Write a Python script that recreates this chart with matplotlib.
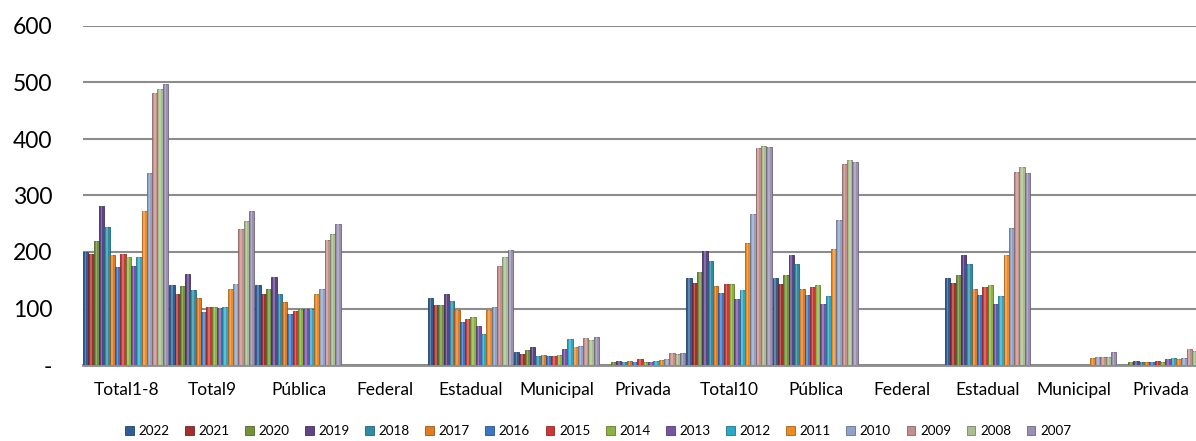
import numpy as np
import matplotlib
matplotlib.use("Agg")
import matplotlib.pyplot as plt
from matplotlib.colors import to_rgb
from matplotlib.patches import Patch

plt.rcParams['font.family'] = ['Lato', 'DejaVu Sans']

nan = np.nan

categories = ['Total1-8', 'Total9', 'Pública', 'Federal', 'Estadual', 'Municipal', 'Privada',
              'Total10', 'Pública', 'Federal', 'Estadual', 'Municipal', 'Privada']
years = ['2022', '2021', '2020', '2019', '2018', '2017', '2016', '2015',
         '2014', '2013', '2012', '2011', '2010', '2009', '2008', '2007']

# one list per category, values in year order 2022 -> 2007
total1_8 = [200, 197, 219, 281, 244, 194, 173, 196, 191, 175, 191, 272, 339, 482, 489, 498]
total9 = [141, 125, 139, 161, 132, 118, 94, 102, 102, 101, 102, 134, 143, 240, 254, 272]
publica_9 = [141, 125, 134, 155, 126, 112, 91, 95, 99, 99, 99, 125, 135, 221, 232, 250]
federal_9 = [nan] * 16
estadual_9 = [118, 107, 107, 125, 113, 97, 76, 81, 85, 69, 55, 97, 102, 176, 191, 203]
municipal_9 = [23, 19, 26, 32, 16, 18, 16, 16, 18, 28, 46, 32, 34, 48, 45, 49]
privada_9 = [nan, nan, 5, 7, 5, 7, 5, 11, 5, 6, 7, 9, 11, 21, 19, 21]
total10 = [154, 145, 165, 202, 184, 140, 127, 143, 143, 116, 133, 216, 268, 384, 388, 385]
publica_10 = [154, 144, 159, 194, 178, 134, 124, 138, 141, 108, 122, 205, 257, 355, 362, 359]
federal_10 = [nan] * 16
estadual_10 = [154, 145, 159, 194, 178, 134, 124, 138, 141, 108, 122, 194, 242, 341, 351, 339]
municipal_10 = [nan] * 11 + [12, 15, 15, 15, 23]
privada_10 = [nan, nan, 5, 7, 5, 5, 5, 7, 5, 11, 12, 11, 12, 28, 25, 26]

colors = ['#2f5e97', '#a2302d', '#72923a', '#5e4486', '#2f8ca7', '#e07b22',
          '#3a77c3', '#cd3834', '#8bb33f', '#7454a3', '#2ba7c7', '#ee8a22',
          '#8ea3c7', '#c58d8c', '#a9bd8e', '#9b90b1']

values = np.array([total1_8, total9, publica_9, federal_9, estadual_9, municipal_9, privada_9,
                   total10, publica_10, federal_10, estadual_10, municipal_10, privada_10])

W, H = 1196, 441
fig = plt.figure(figsize=(W / 100, H / 100), dpi=100)
ax_left, ax_bottom = 83 / W, (H - 365) / H
ax_w, ax_h = 13 * 86.2 / W, (365 - 26) / H
ax = fig.add_axes([ax_left, ax_bottom, ax_w, ax_h])

n_cat = len(categories)
bw = 1 / 16.2
x = np.arange(n_cat)
handles = []
for j, yr in enumerate(years):
    base = np.array(to_rgb(colors[j]))
    edge = base * 0.7
    ax.bar(x + j * bw, values[:, j], width=bw, align='edge', color=colors[j],
           edgecolor=edge, linewidth=0.6, zorder=3)
    # light centre streak for the bevelled look
    light = np.clip(base + (1 - base) * 0.25, 0, 1)
    ax.bar(x + j * bw + bw * 0.35, values[:, j], width=bw * 0.3, align='edge',
           color=light, linewidth=0, zorder=3.5)
    handles.append(Patch(facecolor=colors[j], edgecolor=edge, linewidth=0.6, label=yr))

ax.set_xlim(0, n_cat)
ax.set_ylim(0, 600)
ax.set_yticks(range(0, 601, 100))
ax.set_yticklabels(['-', '100', '200', '300', '400', '500', '600'], fontsize=16.5)
ax.set_xticks(x + 0.5)
ax.set_xticklabels(categories, fontsize=12.5)
ax.tick_params(axis='y', length=0, pad=22)
ax.tick_params(axis='x', length=0, pad=12)
for s in ['top', 'right', 'left']:
    ax.spines[s].set_visible(False)
ax.spines['bottom'].set_color('#8c8c8c')
ax.spines['bottom'].set_linewidth(2)
ax.yaxis.grid(True, color='#8c8c8c', linewidth=1.5, zorder=0)
ax.set_axisbelow(True)

fig.legend(handles=handles, loc='center', bbox_to_anchor=(0.5, 0.023), ncol=16, frameon=False,
           fontsize=9.7, handlelength=0.65, handleheight=0.65, handletextpad=0.35,
           columnspacing=1.15, borderaxespad=0)

fig.savefig('out.png', dpi=100)
